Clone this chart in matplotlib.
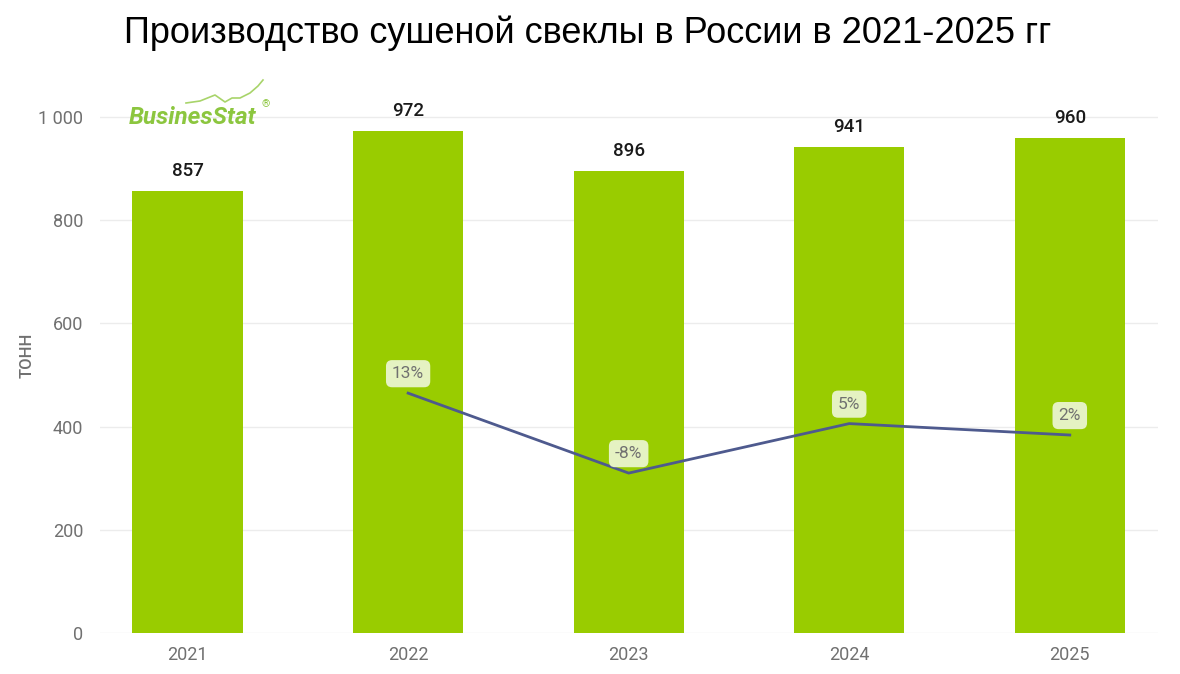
import matplotlib
matplotlib.use("Agg")
import matplotlib.pyplot as plt
import numpy as np

years = ["2021", "2022", "2023", "2024", "2025"]
production = [857, 972, 896, 941, 960]
growth_years = ["2022", "2023", "2024", "2025"]
growth = [13, -8, 5, 2]
growth_labels = ["13%", "-8%", "5%", "2%"]
yticks = [0, 200, 400, 600, 800, 1000]
ytick_labels = ["0", "200", "400", "600", "800", "1 000"]

TICK_FONT = ["Roboto", "DejaVu Sans"]
BAR_COLOR = "#99cc00"
LINE_COLOR = "#4e5a8e"
GRID_COLOR = "#ececec"
TICK_COLOR = "#707070"

fig = plt.figure(figsize=(11.8, 6.74), dpi=100)
ax = fig.add_axes([100/1180, 1-633/674, (1158-100)/1180, (633-101.5)/674])

x = np.arange(len(years))
ax.bar(x, production, width=0.5, color=BAR_COLOR, zorder=2)
ax.set_xlim(-0.397, 4.40)
ax.set_ylim(0, 1030)
ax.set_yticks(yticks)
ax.set_yticklabels(ytick_labels, family=TICK_FONT, fontsize=13, color=TICK_COLOR)
ax.set_xticks(x)
ax.set_xticklabels(years, family=TICK_FONT, fontsize=13, color=TICK_COLOR)
ax.tick_params(axis="y", length=0, pad=12)
ax.tick_params(axis="x", length=0, pad=9)
ax.grid(axis="y", color=GRID_COLOR, linewidth=1, zorder=0)
ax.set_axisbelow(True)
for s in ax.spines.values():
    s.set_visible(False)
ax.set_ylabel("ТОНН", family=TICK_FONT, fontsize=12, fontweight="medium",
              color=TICK_COLOR)
ax.yaxis.set_label_coords(-0.062, 0.523)

for xi, v in zip(x, production):
    ax.annotate(str(v), (xi, v), xytext=(0, 8), textcoords="offset points",
                ha="center", va="bottom", family=TICK_FONT, fontsize=13.5,
                fontweight="medium", color="#1a1a1a", clip_on=False)

ax2 = ax.twinx()
ax2.set_ylim(-50.0, 89.6)
ax2.axis("off")
gx = [years.index(g) for g in growth_years]
ax2.plot(gx, growth, color=LINE_COLOR, linewidth=2, zorder=3)
for xi, g, lab in zip(gx, growth, growth_labels):
    ax2.annotate(lab, (xi, g), xytext=(0, 14), textcoords="offset points",
                 ha="center", va="center", family=TICK_FONT, fontsize=12.5,
                 color="#707070",
                 bbox=dict(boxstyle="round,pad=0.35,rounding_size=0.35",
                           fc="#e5f2c2", ec="none"))

fig.text(0.498, 0.950, "Производство сушеной свеклы в России в 2021-2025 гг",
         ha="center", va="center", family=["Liberation Sans", "DejaVu Sans"],
         fontsize=26, color="#000000")

# logo
fig.text(129/1180, 1-117/674, "BusinesStat", ha="left", va="center",
         family=TICK_FONT, fontsize=17.5, fontweight="bold", style="italic",
         color="#8cc63f")
fig.text(261/1180, 1-104/674, "®", ha="left", va="center",
         family=TICK_FONT, fontsize=7.5, color="#8cc63f")
lx = np.array([186, 200, 215, 225, 232, 240, 250, 258, 263])
ly = np.array([103, 101, 95, 102, 98, 98, 93, 86, 80])
fig.add_artist(plt.Line2D(lx/1180, 1-ly/674, color="#a8d46a", linewidth=1.2))

fig.savefig("out.png", dpi=100)
